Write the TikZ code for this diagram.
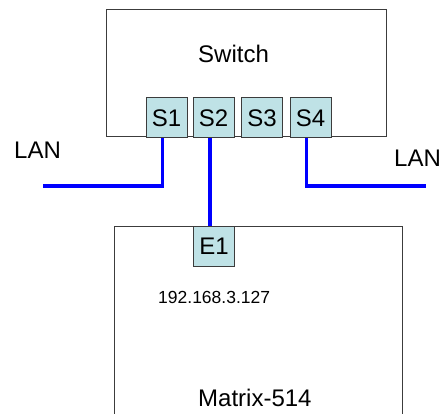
\documentclass[tikz,border=0pt]{standalone}
\usepackage{fontspec}
\setmainfont{Liberation Sans}
\usetikzlibrary{positioning, backgrounds}
\definecolor{portc}{RGB}{191,226,230}
\definecolor{framec}{RGB}{60,60,60}
\newcommand{\lblfont}{\fontsize{24}{28}\selectfont}
\newcommand{\ipfont}{\fontsize{17.5}{20}\selectfont}

\begin{document}
\begin{tikzpicture}[x=1pt, y=-1pt,
    box/.style={draw=framec, line width=1pt, inner sep=0pt},
    port/.style={draw=framec, fill=portc, line width=1pt, inner sep=0pt,
      minimum width=41pt, minimum height=40pt, font=\lblfont},
    lbl/.style={inner sep=0pt, anchor=base west, font=\lblfont},
    wire/.style={blue, line width=3.6pt}]
  \useasboundingbox (0,0) rectangle (442,414);
  \clip (0,0) rectangle (442,414);
  \node[box, minimum width=280pt, minimum height=127pt] (switch) at (246,73.5) {};
  \node[box, minimum width=288pt, minimum height=200pt] (matrix) at (258,327) {};
  \node[lbl] (swlbl) at (198,63) {Switch};
  \node[lbl] (mxlbl) at (198,406) {Matrix-514};
  \node[lbl, font=\ipfont] (ip) at (158,303) {192.168.3.127};
  \node[lbl] (lanl) at (14,159) {LAN};
  \node[lbl] (lanr) at (394,167) {LAN};
  \coordinate (endl) at (43,186);
  \coordinate (endr) at (426,186);
  \foreach \i/\x in {1/166.5,2/213.5,3/262,4/310.5}
    \node[port] (s\i) at (\x,118) {S\i};
  \node[port] (e1) at (214,246.5) {E1};
  % wires go under the ports
  \begin{scope}[on background layer]
    \draw[wire] ([xshift=-4pt]s1.south) |- (endl);
    \draw[wire] ([xshift=-4pt]s4.south) |- (endr);
    \draw[wire] ([xshift=-3.5pt]s2.south) -- ([xshift=-3.5pt]s2.south |- e1.north);
  \end{scope}
\end{tikzpicture}
\end{document}
